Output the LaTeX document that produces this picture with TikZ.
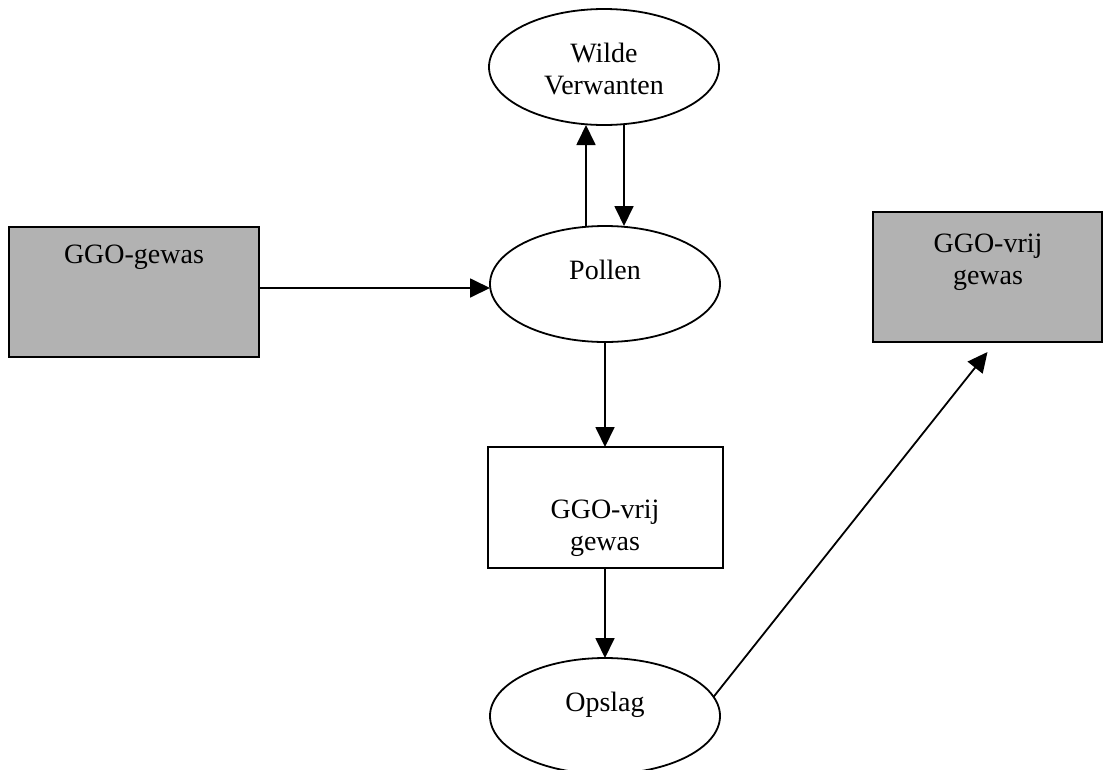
\documentclass[tikz,border=0pt]{standalone}
\usepackage{fontspec}
\setmainfont{Liberation Serif}
\usetikzlibrary{arrows.meta,shapes.geometric}
\definecolor{boxgray}{RGB}{178,178,178}
\begin{document}
\begin{tikzpicture}[x=1pt,y=-1pt,
  every node/.style={inner sep=0pt,outer sep=0pt},
  txt/.style={font=\fontsize{28}{32}\selectfont,align=center},
  oval/.style={draw,line width=1.8pt,ellipse,minimum width=230pt,minimum height=116pt},
  graybox/.style={draw,line width=2pt,fill=boxgray,rectangle},
  whitebox/.style={draw,line width=2pt,rectangle},
  arr/.style={line width=1.8pt,-{Triangle[length=20pt,width=19pt]}}]
\useasboundingbox (0,0) rectangle (1103,769);

% shapes
\node[oval] (wilde) at (604,67) {};
\node[oval] (pollen) at (605,284) {};
\node[oval] (opslag) at (605,716) {};
\node[graybox,minimum width=250pt,minimum height=130pt] (gewas) at (134,292) {};
\node[graybox,minimum width=229pt,minimum height=130pt] (vrijgray) at (987.5,277) {};
\node[whitebox,minimum width=235pt,minimum height=121pt] (vrij) at (605,507.5) {};

% labels
\node[txt] at (604,69) {Wilde\\Verwanten};
\node[txt] at (605,270) {Pollen};
\node[txt] at (605,705) {Opslag};
\node[txt] at (134,257) {GGO-gewas};
\node[txt] at (988,262) {GGO-vrij\\gewas};
\node[txt] at (605,528) {GGO-vrij\\gewas};

% connectors
\coordinate (xup) at (586,0);
\coordinate (xdn) at (624,0);
\coordinate (yh) at (0,288);
\draw[arr] (pollen.north -| xup) -- (wilde.south -| xup);
\draw[arr] (wilde.south -| xdn) -- (pollen.north -| xdn);
\draw[arr] (gewas.east |- yh) -- (pollen.west |- yh);
\draw[arr] (pollen.south) -- (vrij.north);
\draw[arr] (vrij.south) -- (opslag.north);
\draw[arr] (opslag.10) -- ([yshift=-10pt]vrijgray.south);
\end{tikzpicture}
\end{document}
